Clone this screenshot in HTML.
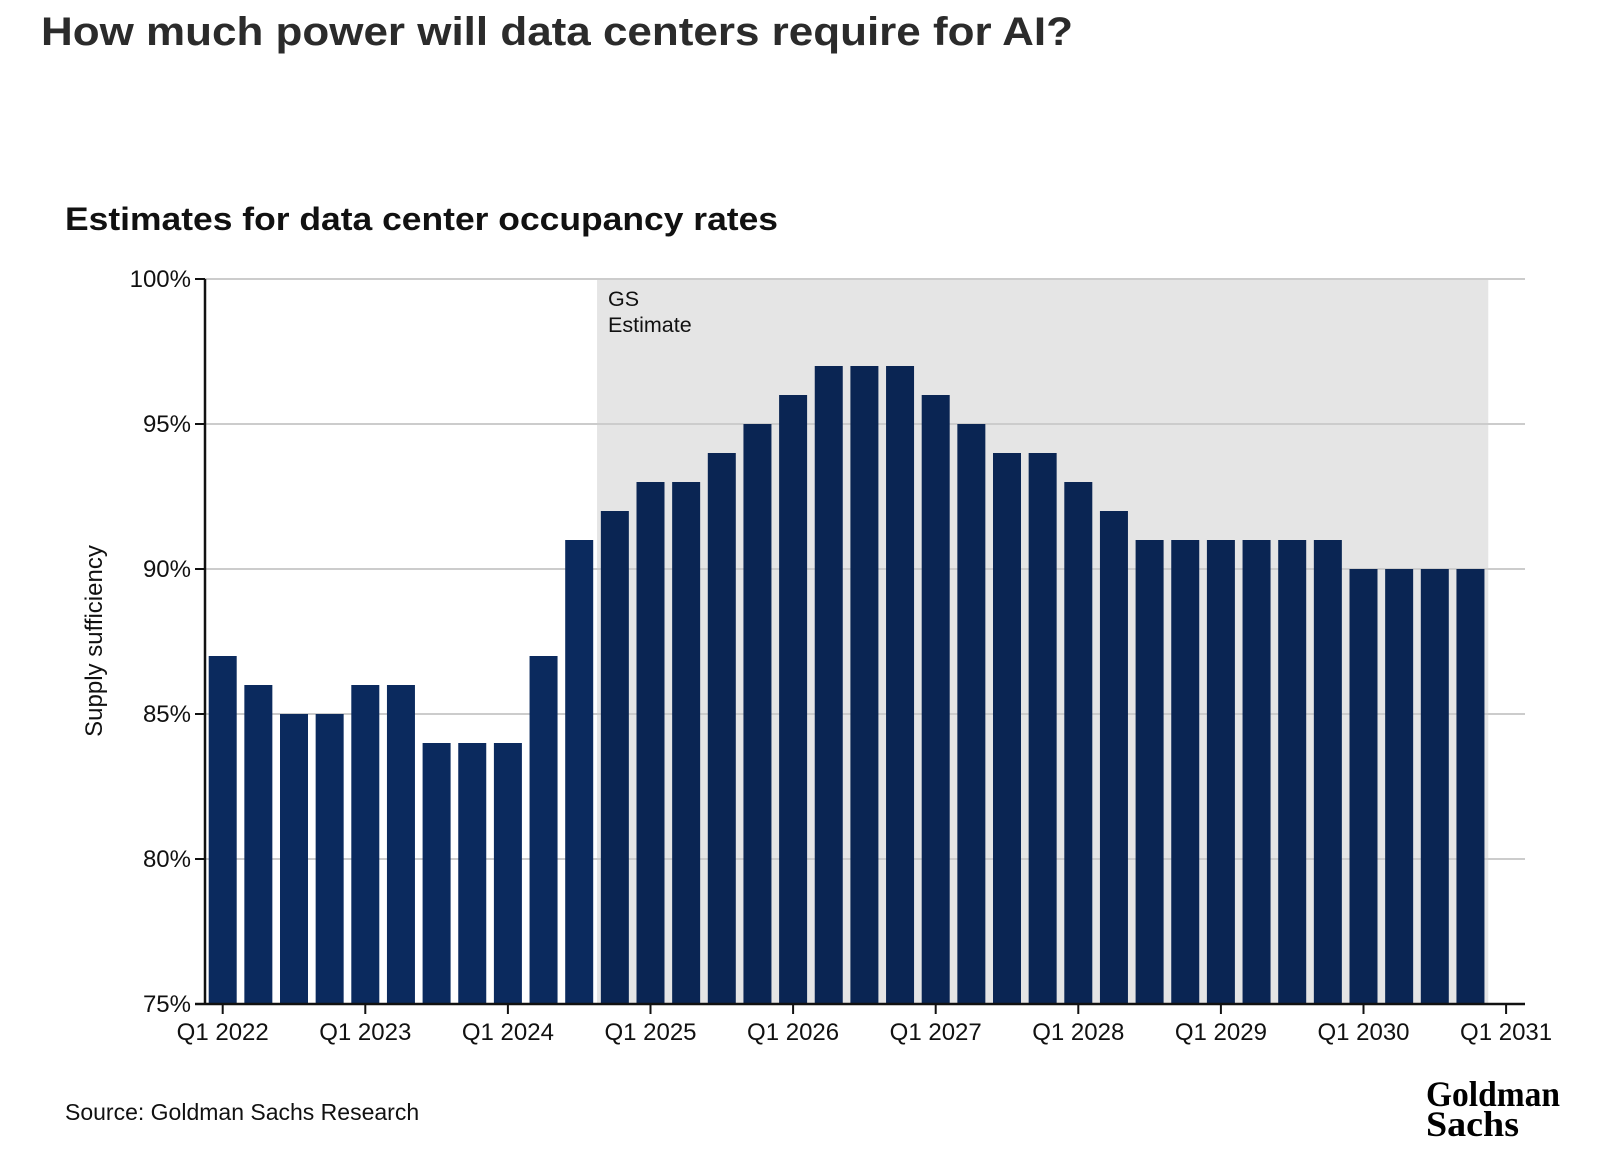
<!DOCTYPE html>
<html><head><meta charset="utf-8"><style>
html,body{margin:0;padding:0;background:#fff;}
svg{display:block;font-family:"Liberation Sans",sans-serif;}
</style></head><body>
<svg id="chart" width="1600" height="1169" viewBox="0 0 1600 1169" xmlns="http://www.w3.org/2000/svg">
<text x="41" y="45" font-size="40" font-weight="bold" fill="#2b2b2b" textLength="1032" lengthAdjust="spacingAndGlyphs">How much power will data centers require for AI?</text>
<text x="65" y="230" font-size="32" font-weight="bold" fill="#111" textLength="713" lengthAdjust="spacingAndGlyphs">Estimates for data center occupancy rates</text>
<g id="plot"></g>
<text transform="translate(102,641) rotate(-90)" text-anchor="middle" font-size="24" fill="#111">Supply sufficiency</text>
<text x="65" y="1120" font-size="23" fill="#111">Source: Goldman Sachs Research</text>
<g font-family="'Liberation Serif',serif" font-weight="bold" fill="#000" font-size="36">
<text x="1426" y="1106" textLength="134" lengthAdjust="spacingAndGlyphs">Goldman</text>
<text x="1426" y="1136" textLength="93" lengthAdjust="spacingAndGlyphs">Sachs</text>
</g>
</svg>
<script>
const values = [87,86,85,85, 86,86,84,84, 84,87,91,92, 93,93,94,95, 96,97,97,97, 96,95,94,94, 93,92,91,91, 91,91,91,91, 90,90,90,90];
const yTicks = [75,80,85,90,95,100];
const xTickLabels = ["Q1 2022","Q1 2023","Q1 2024","Q1 2025","Q1 2026","Q1 2027","Q1 2028","Q1 2029","Q1 2030","Q1 2031"];
const estimateStartIndex = 11;

const NS="http://www.w3.org/2000/svg";
const g=document.getElementById('plot');
const x0=222.7, step=35.65, bw=28;
const yTop=279, yBot=1004, vMin=75, vMax=100;
const xAxisLeft=205, xAxisRight=1525;
function xs(i){return x0+i*step;}
function ys(v){return yBot-(v-vMin)/(vMax-vMin)*(yBot-yTop);}
function mk(t,a){const e=document.createElementNS(NS,t);for(const k in a)e.setAttribute(k,a[k]);g.appendChild(e);return e;}

const shade=mk('rect',{x:xs(estimateStartIndex)-step/2,y:ys(100),width:xs(values.length-1)+step/2-(xs(estimateStartIndex)-step/2),height:ys(75)-ys(100),fill:'#e5e5e5'});


const gx=xs(estimateStartIndex)-step/2+11;
const gs=mk('text',{x:gx,y:ys(100)+27,'font-size':21.5,fill:'#111'});


gs.innerHTML='<tspan x="'+gx+'">GS</tspan><tspan x="'+gx+'" dy="26">Estimate</tspan>';

yTicks.forEach(v=>{
  if(v>vMin){const l=mk('line',{x1:xAxisLeft,x2:xAxisRight,y1:ys(v),y2:ys(v),stroke:'#cccccc','stroke-width':2});
  
  }
  const tk=mk('line',{x1:xAxisLeft-10,x2:xAxisLeft,y1:ys(v),y2:ys(v),stroke:'#111','stroke-width':2});
  
  
  const t=mk('text',{x:xAxisLeft-14,y:ys(v)+8,'text-anchor':'end','font-size':24,fill:'#111'});
  t.textContent=v+'%';
  
  
});

values.forEach((v,i)=>{
  const r=mk('rect',{x:xs(i)-bw/2,y:ys(v),width:bw,height:ys(vMin)-ys(v),fill:i<estimateStartIndex?'#0b2a5e':'#0a2553'});
  
  
});

const ya=mk('line',{x1:xAxisLeft,x2:xAxisLeft,y1:yTop,y2:yBot+1,stroke:'#111','stroke-width':2.5});


const xa=mk('line',{x1:xAxisLeft-10,x2:xAxisRight,y1:yBot,y2:yBot,stroke:'#111','stroke-width':2.5});



xTickLabels.forEach((lab,k)=>{
  const x=xs(k*4);
  const tk=mk('line',{x1:x,x2:x,y1:yBot,y2:yBot+10,stroke:'#111','stroke-width':2});
  
  
  const t=mk('text',{x:x,y:yBot+36,'text-anchor':'middle','font-size':24,fill:'#111'});
  t.textContent=lab;
  
  
});
</script>
</body></html>
